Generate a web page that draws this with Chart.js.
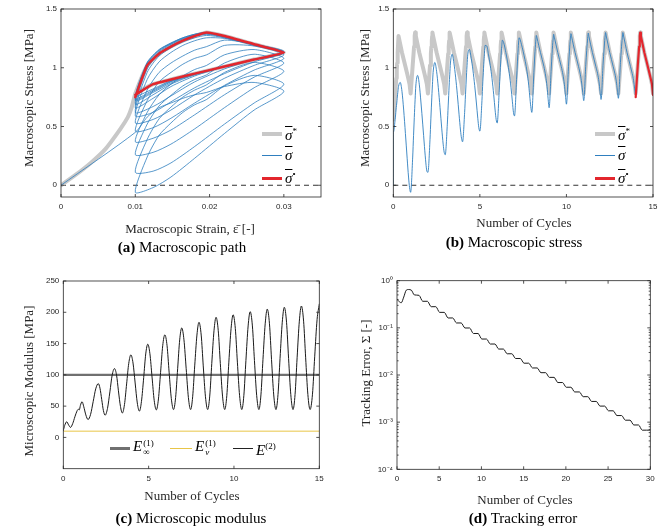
<!DOCTYPE html>
<html>
<head>
<meta charset="utf-8">
<title>Stress tracking</title>
<script src="https://cdn.jsdelivr.net/npm/chart.js@4.4.1/dist/chart.umd.min.js"></script>
<style>
  body { margin: 0; background: #fff; }
  #fig { position: relative; width: 666px; height: 532px; overflow: hidden;
         font-family: "Liberation Serif", "DejaVu Serif", serif; color: #262626; }
  #fig canvas { position: absolute; }
  .t { position: absolute; white-space: nowrap; transform: translate(-50%, -50%); font-size: 13px; line-height: 1; }
  .yt { transform: translate(-50%, -50%) rotate(-90deg); }
  .cap { font-size: 15px; color: #000; }
  .sw { position: absolute; }
  .lg { position: absolute; font-size: 15px; font-style: italic; line-height: 1; white-space: nowrap; color: #000; }
  .ov { text-decoration: overline; }
  .lg sup { font-size: 9px; font-style: normal; vertical-align: 6px; }
  .st { display: inline-block; vertical-align: middle; font-size: 9px; line-height: 9px; font-style: normal; margin-left: 1px; }
  .st span { display: block; }
</style>
</head>
<body>
<div id="fig">
  <canvas id="pathChart" width="333" height="266" style="left:0;top:0"></canvas>
  <canvas id="stressChart" width="333" height="266" style="left:333px;top:0"></canvas>
  <canvas id="modulusChart" width="333" height="266" style="left:0;top:266px"></canvas>
  <canvas id="errorChart" width="333" height="266" style="left:333px;top:266px"></canvas>

  <!-- axis titles and captions -->
  <div class="t yt" style="left:28px;top:98px">Macroscopic Stress [MPa]</div>
  <div class="t" style="left:190px;top:228px">Macroscopic Strain, ε̄ [-]</div>
  <div class="t cap" style="left:182px;top:247px"><b>(a)</b> Macroscopic path</div>

  <div class="t yt" style="left:364px;top:98px">Macroscopic Stress [MPa]</div>
  <div class="t" style="left:524px;top:222px">Number of Cycles</div>
  <div class="t cap" style="left:514px;top:242px"><b>(b)</b> Macroscopic stress</div>

  <div class="t yt" style="left:28px;top:381px">Microscopic Modulus [MPa]</div>
  <div class="t" style="left:192px;top:495px">Number of Cycles</div>
  <div class="t cap" style="left:191px;top:518px"><b>(c)</b> Microscopic modulus</div>

  <div class="t yt" style="left:365px;top:373px">Tracking Error, Σ [-]</div>
  <div class="t" style="left:525px;top:499px">Number of Cycles</div>
  <div class="t cap" style="left:523px;top:518px"><b>(d)</b> Tracking error</div>

  <!-- legend (a) -->
  <div class="sw" style="left:262px;top:132px;width:20px;height:4px;background:#c8c8c8"></div>
  <div class="lg" style="left:285px;top:127px"><span class="ov">σ</span><sup>*</sup></div>
  <div class="sw" style="left:262px;top:155px;width:20px;height:1px;background:#2f7fbf"></div>
  <div class="lg" style="left:285px;top:148px"><span class="ov">σ</span></div>
  <div class="sw" style="left:262px;top:177px;width:20px;height:2.5px;background:#e3262d"></div>
  <div class="lg" style="left:285px;top:170px"><span class="ov">σ</span><sup>•</sup></div>

  <!-- legend (b) -->
  <div class="sw" style="left:595px;top:132px;width:20px;height:4px;background:#c8c8c8"></div>
  <div class="lg" style="left:618px;top:127px"><span class="ov">σ</span><sup>*</sup></div>
  <div class="sw" style="left:595px;top:155px;width:20px;height:1px;background:#2f7fbf"></div>
  <div class="lg" style="left:618px;top:148px"><span class="ov">σ</span></div>
  <div class="sw" style="left:595px;top:177px;width:20px;height:2.5px;background:#e3262d"></div>
  <div class="lg" style="left:618px;top:170px"><span class="ov">σ</span><sup>•</sup></div>

  <!-- legend (c) -->
  <div class="sw" style="left:110px;top:447px;width:20px;height:3px;background:#707070"></div>
  <div class="lg" style="left:133px;top:439px">E<span class="st"><span>(1)</span><span>∞</span></span></div>
  <div class="sw" style="left:170px;top:448px;width:22px;height:1px;background:#e8c547"></div>
  <div class="lg" style="left:195px;top:439px">E<span class="st"><span>(1)</span><span><i>v</i></span></span></div>
  <div class="sw" style="left:233px;top:448px;width:20px;height:1px;background:#222"></div>
  <div class="lg" style="left:256px;top:442px">E<sup>(2)</sup></div>
</div>

<script>
// ---- one loading cycle, sampled at these phases ----
const cyclePhase  = [0, 0.12, 0.17, 0.2, 0.225, 0.245, 0.26, 0.3, 0.4, 0.5, 0.6, 0.7, 0.8, 0.88, 0.94];
// prescribed macroscopic strain at those samples (0.01 -> 0.03 -> 0.01)
const cycleStrain = [0.01, 0.0116, 0.0132, 0.0148, 0.0164, 0.018, 0.0196, 0.022, 0.026, 0.03, 0.026, 0.022, 0.018, 0.0148, 0.0124];
// target stress sigma* over a cycle
const targetStress     = [0.78, 1.02, 1.12, 1.18, 1.23, 1.27, 1.30, 1.27, 1.20, 1.13, 1.07, 1.01, 0.95, 0.90, 0.86];
const targetFirstCycle = [0.56, 0.80, 0.91, 0.98, 1.04, 1.09, 1.13, 1.27, 1.20, 1.13, 1.07, 1.01, 0.95, 0.90, 0.86];
// initial loading of the target, strain 0 -> 0.01
const rampStrain = [0, 0.002, 0.004, 0.006, 0.008, 0.009, 0.0095];
const rampTarget = [0, 0.09, 0.19, 0.31, 0.48, 0.58, 0.66];

// computed stress, one row per cycle (cycles 0..13)
const stressCycles = [
  [0.45, 0.58, 0.66, 0.70, 0.74, 0.77, 0.79, 0.84, 0.875, 0.80, 0.64, 0.44, 0.23, 0.07, -0.02],
  [-0.06, 0.24, 0.425, 0.53, 0.62, 0.685, 0.73, 0.845, 0.935, 0.86, 0.70, 0.52, 0.33, 0.19, 0.12],
  [0.11, 0.39, 0.565, 0.665, 0.75, 0.81, 0.855, 0.96, 1.045, 0.97, 0.83, 0.66, 0.48, 0.35, 0.28],
  [0.26, 0.52, 0.675, 0.765, 0.845, 0.90, 0.94, 1.04, 1.115, 1.04, 0.92, 0.77, 0.60, 0.47, 0.40],
  [0.37, 0.62, 0.77, 0.86, 0.93, 0.985, 1.02, 1.11, 1.155, 1.08, 0.98, 0.85, 0.70, 0.57, 0.49],
  [0.46, 0.72, 0.88, 0.96, 1.03, 1.08, 1.11, 1.19, 1.185, 1.11, 1.02, 0.91, 0.77, 0.64, 0.56],
  [0.53, 0.81, 0.96, 1.04, 1.10, 1.15, 1.18, 1.235, 1.20, 1.13, 1.05, 0.95, 0.83, 0.71, 0.62],
  [0.59, 0.90, 1.05, 1.13, 1.19, 1.23, 1.255, 1.25, 1.20, 1.14, 1.07, 0.99, 0.88, 0.76, 0.67],
  [0.62, 0.96, 1.10, 1.17, 1.22, 1.255, 1.275, 1.255, 1.19, 1.13, 1.07, 1.01, 0.93, 0.84, 0.74],
  [0.66, 0.99, 1.12, 1.19, 1.235, 1.27, 1.285, 1.26, 1.195, 1.13, 1.07, 1.01, 0.94, 0.86, 0.77],
  [0.69, 1.01, 1.135, 1.20, 1.245, 1.275, 1.29, 1.265, 1.195, 1.13, 1.07, 1.01, 0.945, 0.87, 0.79],
  [0.72, 1.03, 1.145, 1.205, 1.25, 1.28, 1.295, 1.265, 1.195, 1.13, 1.07, 1.01, 0.95, 0.88, 0.80],
  [0.73, 1.04, 1.15, 1.21, 1.255, 1.285, 1.30, 1.27, 1.20, 1.13, 1.07, 1.01, 0.95, 0.885, 0.81],
  [0.74, 1.045, 1.155, 1.21, 1.255, 1.285, 1.30, 1.27, 1.20, 1.13, 1.07, 1.01, 0.95, 0.89, 0.82]
];
// last (converged) cycle, sigma-bullet
const lastCycle = [0.75, 1.02, 1.12, 1.18, 1.23, 1.27, 1.30, 1.27, 1.20, 1.13, 1.07, 1.01, 0.95, 0.90, 0.86];
const lastCycleEnd = 0.77;

// microscopic modulus E(2) vs cycles; E_inf(1) and E_v(1) constants
const modTime = [0, 0.08, 0.2, 0.31, 0.42, 0.55, 0.68, 0.8, 0.88, 0.94, 1.0, 1.1, 1.2, 1.32, 1.45,
  1.6, 1.75, 1.9, 2.05, 2.15, 2.25, 2.35, 2.45,
  2.59, 2.73, 2.86, 3.0, 3.12, 3.23, 3.35, 3.46,
  3.585, 3.71, 3.835, 3.96, 4.085, 4.21, 4.335, 4.46,
  4.58, 4.71, 4.83, 4.95, 5.075, 5.2, 5.325, 5.45,
  5.575, 5.7, 5.825, 5.95, 6.08, 6.2, 6.33, 6.46,
  6.58, 6.7, 6.82, 6.94, 7.07, 7.2, 7.33, 7.46,
  7.58, 7.7, 7.83, 7.95, 8.08, 8.2, 8.33, 8.46,
  8.58, 8.7, 8.83, 8.95, 9.08, 9.2, 9.33, 9.46,
  9.58, 9.7, 9.83, 9.95, 10.08, 10.2, 10.33, 10.46,
  10.58, 10.7, 10.83, 10.95, 11.08, 11.2, 11.33, 11.46,
  11.58, 11.7, 11.83, 11.95, 12.08, 12.2, 12.33, 12.46,
  12.58, 12.7, 12.83, 12.95, 13.08, 13.2, 13.33, 13.46,
  13.58, 13.7, 13.83, 13.95, 14.08, 14.2, 14.33, 14.46,
  14.6, 14.73, 14.87, 15.0];
const modE2 = [11, 19, 25, 20, 16, 22, 33, 42, 45, 44, 51, 57, 49, 36, 28.5,
  36.9, 57.2, 77.6, 86, 78.6, 60.8, 42.9, 35.5,
  46.4, 72.8, 99.1, 110, 99.6, 74.5, 49.4, 39,
  52.6, 85.5, 118.4, 132, 118.9, 87, 55.1, 42,
  57.6, 95.5, 133.4, 149, 133.7, 96.5, 59.3, 44,
  61.5, 104, 146.5, 164, 146.5, 104.3, 62, 44.5,
  63.6, 109.8, 155.9, 175, 155.9, 109.8, 63.6, 44.5,
  64.9, 114.3, 163.6, 184, 163.6, 114.3, 64.9, 44.5,
  66, 118.3, 170.5, 192, 170.5, 118.3, 66, 44.5,
  66.6, 120.3, 173.9, 196, 173.9, 120.3, 66.6, 44.5,
  67.3, 122.8, 178.2, 201, 178.2, 122.8, 67.3, 44.5,
  67.9, 124.8, 181.6, 205, 181.6, 124.8, 67.9, 44.5,
  68.4, 126.3, 184.1, 208, 184.1, 126.3, 68.4, 44.5,
  68.7, 127.3, 185.8, 210, 185.8, 127.3, 68.7, 44.5,
  69.1, 128.8, 188.4, 213];
const eInfinity = 100;
const eViscous = 10;

// tracking error vs cycles
const errTime = [0, 0.2, 0.5, 0.8, 1.1, 1.35, 1.7, 2.05, 2.6, 3.05, 3.6, 4.05, 4.6, 5.05, 5.6,
  6.05, 6.6, 7.05, 7.6, 8.05, 8.6, 9.05, 9.6, 10.05, 10.6, 11.05, 11.6, 12.05, 12.6,
  13.05, 13.6, 14.05, 14.6, 15.05, 15.6, 16.05, 16.6, 17.05, 17.6, 18.05, 18.6,
  19.05, 19.6, 20.05, 20.6, 21.05, 21.6, 22.05, 22.6, 23.05, 23.6, 24.05, 24.6,
  25.05, 25.6, 26.05, 26.6, 27.05, 27.6, 28.05, 28.6, 29.05, 30];
const errValue = [0.40, 0.37, 0.34, 0.45, 0.63, 0.65, 0.63, 0.50, 0.49, 0.366, 0.366, 0.281, 0.281, 0.213, 0.213,
  0.162, 0.162, 0.127, 0.127, 0.0993, 0.0993, 0.0759, 0.0759, 0.0579, 0.0579, 0.0454, 0.0454, 0.0355, 0.0355,
  0.0282, 0.0282, 0.0224, 0.0224, 0.0178, 0.0178, 0.0141, 0.0141, 0.0112, 0.0112, 0.00891, 0.00891,
  0.00692, 0.00692, 0.0055, 0.0055, 0.00437, 0.00437, 0.00347, 0.00347, 0.00275, 0.00275, 0.00219, 0.00219,
  0.00174, 0.00174, 0.00138, 0.00138, 0.0011, 0.0011, 0.000871, 0.000871, 0.000676, 0.000676];

// ticks
const strainTicks = [0, 0.01, 0.02, 0.03];
const stressTicks = [0, 0.5, 1, 1.5];
const cycleTicks15 = [0, 5, 10, 15];
const modulusTicks = [0, 50, 100, 150, 200, 250];
const cycleTicks30 = [0, 5, 10, 15, 20, 25, 30];
const errorTicks = [1e-4, 1e-3, 1e-2, 1e-1, 1];
const errorTickLabels = ['10⁻⁴', '10⁻³', '10⁻²', '10⁻¹', '10⁰'];

const BLUE = '#2f7fbf', GRAY = '#c8c8c8', RED = '#e3262d';
const tickFont = { family: 'Liberation Sans', size: 8 };

// box around the plot plus inward ticks on all four sides (MATLAB look)
const frameTicks = {
  id: 'frameTicks',
  afterDatasetsDraw(chart) {
    const { ctx, chartArea: a, scales: { x, y } } = chart;
    ctx.save();
    ctx.strokeStyle = '#262626';
    ctx.lineWidth = 0.8;
    ctx.strokeRect(a.left, a.top, a.right - a.left, a.bottom - a.top);
    ctx.beginPath();
    x.ticks.forEach(t => {
      const px = x.getPixelForValue(t.value);
      ctx.moveTo(px, a.bottom); ctx.lineTo(px, a.bottom - 3);
      ctx.moveTo(px, a.top); ctx.lineTo(px, a.top + 3);
    });
    const yTick = (v, len) => {
      const py = y.getPixelForValue(v);
      ctx.moveTo(a.left, py); ctx.lineTo(a.left + len, py);
      ctx.moveTo(a.right, py); ctx.lineTo(a.right - len, py);
    };
    y.ticks.forEach(t => yTick(t.value, 3));
    if (y.type === 'logarithmic') {
      for (let d = 1e-4; d < 1; d *= 10) {
        for (let m = 2; m <= 9; m++) yTick(d * m, 1.6);
      }
    }
    ctx.stroke();
    ctx.restore();
  }
};

function axis(type, min, max, ticks, labels, fitSize, horizontal) {
  return {
    type, min, max,
    grid: { display: false, drawTicks: false },
    border: { display: false },
    afterBuildTicks: s => { s.ticks = ticks.map(v => ({ value: v })); },
    afterFit: s => { if (horizontal) s.height = fitSize; else s.width = fitSize; },
    ticks: {
      font: tickFont, color: '#262626', padding: horizontal ? 5 : 4,
      maxRotation: 0, autoSkip: false,
      callback: (v, i) => labels ? labels[i] : String(ticks[i])
    }
  };
}

function chartOptions(xScale, yScale, padding) {
  return {
    responsive: false, animation: false, devicePixelRatio: 1,
    layout: { padding },
    plugins: { legend: { display: false }, tooltip: { enabled: false } },
    elements: { point: { radius: 0 } },
    scales: { x: xScale, y: yScale }
  };
}

// round joins like MATLAB, so thick zigzags don't grow miter spikes
function line(data, color, width, extra) {
  return Object.assign({ data, borderColor: color, borderWidth: width, showLine: true,
    pointRadius: 0, fill: false, tension: 0,
    borderJoinStyle: 'round', borderCapStyle: 'round' }, extra);
}

// ---- (a) macroscopic path: stress vs strain ----
const pathBlue = [{ x: 0, y: 0 }];
stressCycles.forEach(row => row.forEach((s, i) => pathBlue.push({ x: cycleStrain[i], y: s })));
pathBlue.push({ x: cycleStrain[0], y: lastCycle[0] });
const pathRed = lastCycle.map((s, i) => ({ x: cycleStrain[i], y: s }));
pathRed.push({ x: cycleStrain[0], y: lastCycleEnd });
const pathGray = rampStrain.map((e, i) => ({ x: e, y: rampTarget[i] }))
  .concat(targetStress.map((s, i) => ({ x: cycleStrain[i], y: s })));
pathGray.push({ x: cycleStrain[0], y: targetStress[0] });

new Chart(document.getElementById('pathChart'), {
  type: 'scatter',
  data: { datasets: [
    line([{ x: 0, y: 0 }, { x: 0.035, y: 0 }], '#333', 1, { borderDash: [5, 4], borderCapStyle: 'butt', order: 4 }),
    line(pathGray, GRAY, 4, { order: 3, tension: 0.15 }),
    line(pathBlue, BLUE, 0.8, { order: 2, tension: 0.25 }),
    line(pathRed, RED, 2.5, { order: 1, tension: 0.15 })
  ] },
  options: chartOptions(
    axis('linear', 0, 0.035, strainTicks, null, 69, true),
    axis('linear', -0.1, 1.5, stressTicks, null, 61, false),
    { left: 0, top: 9, right: 12, bottom: 0 }),
  plugins: [frameTicks]
});

// ---- (b) macroscopic stress vs cycles ----
const timeBlue = [{ x: 0, y: 0 }];
stressCycles.forEach((row, k) => row.forEach((s, i) => timeBlue.push({ x: k + cyclePhase[i], y: s })));
timeBlue.push({ x: stressCycles.length, y: lastCycle[0] });
const n = stressCycles.length;
const timeRed = lastCycle.map((s, i) => ({ x: n + cyclePhase[i], y: s }));
timeRed.push({ x: n + 1, y: lastCycleEnd });
const timeGray = [];
for (let k = 0; k <= n; k++) {
  const row = k === 0 ? targetFirstCycle : targetStress;
  row.forEach((s, i) => timeGray.push({ x: k + cyclePhase[i], y: s }));
}
timeGray.push({ x: n + 1, y: targetStress[0] });

new Chart(document.getElementById('stressChart'), {
  type: 'scatter',
  data: { datasets: [
    line([{ x: 0, y: 0 }, { x: 15, y: 0 }], '#333', 1, { borderDash: [5, 4], borderCapStyle: 'butt', order: 4 }),
    line(timeGray, GRAY, 4, { order: 3 }),
    line(timeBlue, BLUE, 0.9, { order: 2, cubicInterpolationMode: 'monotone' }),
    line(timeRed, RED, 2.2, { order: 1 })
  ] },
  options: chartOptions(
    axis('linear', 0, 15, cycleTicks15, null, 69, true),
    axis('linear', -0.1, 1.5, stressTicks, null, 60.3, false),
    { left: 0, top: 9, right: 13, bottom: 0 }),
  plugins: [frameTicks]
});

// ---- (c) microscopic modulus ----
new Chart(document.getElementById('modulusChart'), {
  type: 'scatter',
  data: { datasets: [
    line([{ x: 0, y: eInfinity }, { x: 15, y: eInfinity }], '#707070', 2.2, { order: 3, borderCapStyle: 'butt' }),
    line([{ x: 0, y: eViscous }, { x: 15, y: eViscous }], '#e8c547', 1, { order: 2, borderCapStyle: 'butt' }),
    line(modTime.map((t, i) => ({ x: t, y: modE2[i] })), '#1a1a1a', 1, { order: 1, cubicInterpolationMode: 'monotone' })
  ] },
  options: chartOptions(
    axis('linear', 0, 15, cycleTicks15, null, 63.3, true),
    axis('linear', -50, 250, modulusTicks, null, 63.3, false),
    { left: 0, top: 15, right: 13.7, bottom: 0 }),
  plugins: [frameTicks]
});

// ---- (d) tracking error ----
new Chart(document.getElementById('errorChart'), {
  type: 'scatter',
  data: { datasets: [
    line(errTime.map((t, i) => ({ x: t, y: errValue[i] })), '#1a1a1a', 1, { cubicInterpolationMode: 'monotone' })
  ] },
  options: chartOptions(
    axis('linear', 0, 30, cycleTicks30, null, 62.7, true),
    axis('logarithmic', 1e-4, 1, errorTicks, errorTickLabels, 64, false),
    { left: 0, top: 14.7, right: 15.7, bottom: 0 }),
  plugins: [frameTicks]
});
</script>
</body>
</html>
